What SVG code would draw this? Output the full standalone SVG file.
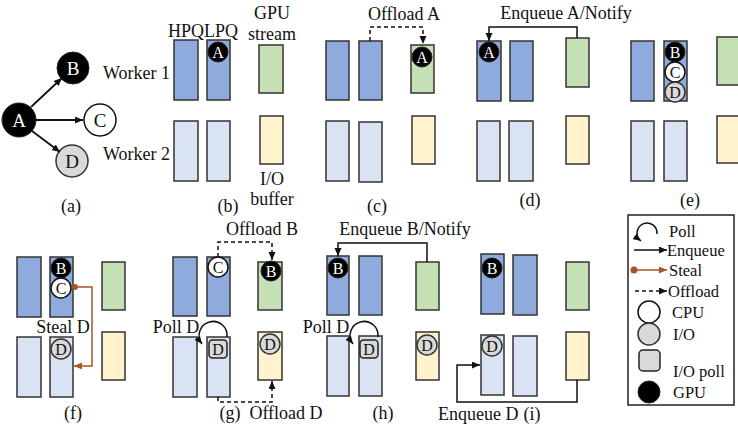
<svg xmlns="http://www.w3.org/2000/svg" width="738" height="429" viewBox="0 0 738 429">
  <style>
    text { font-family: "Liberation Serif", "Times New Roman", serif; font-size: 18px; fill: #111; }
    .mid { text-anchor: middle; }
    .lg { font-size: 16.5px; }
    .tk { font-size: 16px; text-anchor: middle; }
    .tkw { font-size: 16px; text-anchor: middle; fill: #fff; }
    .big { font-size: 19px; text-anchor: middle; }
    .bigw { font-size: 19px; text-anchor: middle; fill: #fff; }
    .q1 { fill: #8faadc; stroke: #333; stroke-width: 1.5; }
    .q2 { fill: #dae3f3; stroke: #333; stroke-width: 1.5; }
    .gs { fill: #c5e0b4; stroke: #333; stroke-width: 1.5; }
    .iob { fill: #fff2cc; stroke: #333; stroke-width: 1.5; }
    .gpu { fill: #000; stroke: #222; stroke-width: 1; }
    .cpu { fill: #fff; stroke: #111; stroke-width: 1.5; }
    .io { fill: #d9d9d9; stroke: #333; stroke-width: 1.5; }
    .poll { fill: #d9d9d9; stroke: #222; stroke-width: 1.5; }
    .enq { fill: none; stroke: #111; stroke-width: 1.5; marker-end: url(#ah); }
    .off { fill: none; stroke: #111; stroke-width: 1.5; stroke-dasharray: 4 3; marker-end: url(#ah); }
    .stl { fill: none; stroke: #a65628; stroke-width: 1.5; marker-end: url(#ahb); }
    .edge { fill: none; stroke: #111; stroke-width: 1.8; marker-end: url(#ah); }
  </style>
  <defs>
    <marker id="ah" markerUnits="userSpaceOnUse" markerWidth="9" markerHeight="8" refX="8" refY="3.5" orient="auto">
      <path d="M0,0 L8,3.5 L0,7 z" fill="#111"/>
    </marker>
    <marker id="ahb" markerUnits="userSpaceOnUse" markerWidth="9" markerHeight="8" refX="8" refY="3.5" orient="auto">
      <path d="M0,0 L8,3.5 L0,7 z" fill="#a65628"/>
    </marker>
  </defs>

  <rect width="738" height="429" fill="#fff"/>

  <!-- (a) task graph -->
  <g id="task-a"><circle class="gpu" cx="19" cy="120" r="17"/><text class="bigw" x="19" y="126.5">A</text></g>
  <g id="task-b"><circle class="gpu" cx="73" cy="68" r="16"/><text class="bigw" x="73" y="74.5">B</text></g>
  <g id="task-c"><circle class="cpu" cx="100" cy="120" r="16"/><text class="big" x="100" y="126.5">C</text></g>
  <g id="task-d"><circle class="io" cx="72" cy="161" r="16"/><text class="big" x="72" y="167.5">D</text></g>
  <text x="103" y="79">Worker 1</text>
  <text x="103" y="160">Worker 2</text>
  <text class="mid" x="71" y="212">(a)</text>

  <!-- (b) initial queues -->
  <g id="panel-b">
    <rect class="q1" x="174" y="40" width="24" height="60"/>
    <rect class="q1" x="207" y="40" width="23" height="60"/>
    <rect class="gs" x="259" y="45" width="24" height="48"/>
    <rect class="q2" x="174" y="121" width="24" height="60"/>
    <rect class="q2" x="207" y="121" width="23" height="60"/>
    <rect class="iob" x="260" y="116" width="23" height="48"/>
    <g id="b-task-a"><circle class="gpu" cx="218" cy="52" r="10"/><text class="tkw" x="218" y="57.5">A</text></g>
    <text x="168" y="37">HPQLPQ</text>
    <text class="mid" x="272" y="19">GPU</text>
    <text class="mid" x="272" y="40">stream</text>
    <text class="mid" x="272" y="185">I/O</text>
    <text class="mid" x="272" y="205">buffer</text>
    <text class="mid" x="228" y="212">(b)</text>
  </g>

  <!-- (c) offload A -->
  <g id="panel-c">
    <rect class="q1" x="326" y="41" width="23" height="59"/>
    <rect class="q1" x="359" y="41" width="23" height="59"/>
    <rect class="gs" x="411" y="45" width="23" height="48"/>
    <rect class="q2" x="326" y="121" width="23" height="60"/>
    <rect class="q2" x="359" y="122" width="23" height="60"/>
    <rect class="iob" x="412" y="116" width="23" height="48"/>
    <g id="c-task-a"><circle class="gpu" cx="422" cy="57" r="10"/><text class="tkw" x="422" y="62.5">A</text></g>
    <text class="mid" x="404" y="20">Offload A</text>
    <text class="mid" x="377" y="212">(c)</text>
  </g>

  <!-- (d) enqueue A -->
  <g id="panel-d">
    <rect class="q1" x="477" y="41" width="24" height="60"/>
    <rect class="q1" x="510" y="41" width="23" height="60"/>
    <rect class="gs" x="566" y="38" width="23" height="49"/>
    <rect class="q2" x="477" y="121" width="23" height="60"/>
    <rect class="q2" x="509" y="121" width="24" height="60"/>
    <rect class="iob" x="566" y="116" width="23" height="48"/>
    <g id="d-task-a"><circle class="gpu" cx="489" cy="52" r="10"/><text class="tkw" x="489" y="57.5">A</text></g>
    <text class="mid" x="566" y="19">Enqueue A/Notify</text>
    <text class="mid" x="530" y="206">(d)</text>
  </g>

  <!-- (e) successors spawned -->
  <g id="panel-e">
    <rect class="q1" x="631" y="41" width="23" height="60"/>
    <rect class="q1" x="664" y="41" width="23" height="60"/>
    <rect class="gs" x="717" y="37" width="30" height="48"/>
    <rect class="q2" x="631" y="121" width="23" height="60"/>
    <rect class="q2" x="664" y="121" width="23" height="60"/>
    <rect class="iob" x="717" y="116" width="30" height="47"/>
    <g id="e-task-b"><circle class="gpu" cx="675" cy="52" r="10"/><text class="tkw" x="675" y="57.5">B</text></g>
    <g id="e-task-c"><circle class="cpu" cx="675" cy="72" r="10"/><text class="tk" x="675" y="77.5">C</text></g>
    <g id="e-task-d"><circle class="io" cx="675" cy="92" r="10"/><text class="tk" x="675" y="97.5">D</text></g>
    <text class="mid" x="690" y="206">(e)</text>
  </g>

  <!-- (f) steal D -->
  <g id="panel-f">
    <rect class="q1" x="17" y="257" width="24" height="60"/>
    <rect class="q1" x="50" y="257" width="23" height="60"/>
    <rect class="gs" x="102" y="262" width="23" height="48"/>
    <rect class="q2" x="17" y="337" width="24" height="60"/>
    <rect class="q2" x="50" y="337" width="23" height="60"/>
    <rect class="iob" x="102" y="332" width="23" height="48"/>
    <g id="f-task-b"><circle class="gpu" cx="61" cy="268" r="10"/><text class="tkw" x="61" y="273.5">B</text></g>
    <g id="f-task-c"><circle class="cpu" cx="61" cy="288" r="10"/><text class="tk" x="61" y="293.5">C</text></g>
    <g id="f-task-d"><circle class="io" cx="61" cy="349" r="10"/><text class="tk" x="61" y="354.5">D</text></g>
    <text class="mid" x="63" y="333">Steal D</text>
    <text class="mid" x="73" y="419">(f)</text>
  </g>

  <!-- (g) offload B, poll D -->
  <g id="panel-g">
    <rect class="q1" x="173" y="257" width="24" height="59"/>
    <rect class="q1" x="207" y="257" width="23" height="59"/>
    <rect class="gs" x="258" y="262" width="24" height="48"/>
    <rect class="q2" x="173" y="337" width="24" height="60"/>
    <rect class="q2" x="207" y="337" width="23" height="60"/>
    <rect class="iob" x="258" y="332" width="24" height="48"/>
    <g id="g-task-c"><circle class="cpu" cx="218" cy="267" r="10"/><text class="tk" x="218" y="272.5">C</text></g>
    <g id="g-task-b"><circle class="gpu" cx="271" cy="271" r="10"/><text class="tkw" x="271" y="276.5">B</text></g>
    <g id="g-poll-d"><rect class="poll" x="209" y="340" width="18" height="18" rx="3.5"/><text class="tk" x="218" y="355">D</text></g>
    <g id="g-task-d"><circle class="io" cx="270" cy="344" r="10"/><text class="tk" x="270" y="349.5">D</text></g>
    <text class="mid" x="262" y="235">Offload B</text>
    <text class="mid" x="176" y="333">Poll D</text>
    <text class="mid" x="230" y="419">(g)</text>
    <text class="mid" x="286" y="419">Offload D</text>
  </g>

  <!-- (h) enqueue B, poll D -->
  <g id="panel-h">
    <rect class="q1" x="327" y="256" width="22" height="59"/>
    <rect class="q1" x="359" y="256" width="23" height="59"/>
    <rect class="gs" x="416" y="262" width="23" height="48"/>
    <rect class="q2" x="327" y="336" width="22" height="60"/>
    <rect class="q2" x="359" y="336" width="23" height="60"/>
    <rect class="iob" x="416" y="332" width="23" height="48"/>
    <g id="h-task-b"><circle class="gpu" cx="338" cy="268" r="10"/><text class="tkw" x="338" y="273.5">B</text></g>
    <g id="h-poll-d"><rect class="poll" x="360" y="340" width="18" height="18" rx="3.5"/><text class="tk" x="369" y="355">D</text></g>
    <g id="h-task-d"><circle class="io" cx="427" cy="345" r="10"/><text class="tk" x="427" y="350.5">D</text></g>
    <text class="mid" x="405" y="235">Enqueue B/Notify</text>
    <text class="mid" x="326" y="333">Poll D</text>
    <text class="mid" x="383" y="419">(h)</text>
  </g>

  <!-- (i) enqueue D -->
  <g id="panel-i">
    <rect class="q1" x="481" y="254" width="23" height="60"/>
    <rect class="q1" x="513" y="255" width="24" height="60"/>
    <rect class="gs" x="566" y="262" width="23" height="48"/>
    <rect class="q2" x="481" y="335" width="23" height="60"/>
    <rect class="q2" x="513" y="336" width="24" height="60"/>
    <rect class="iob" x="566" y="332" width="23" height="48"/>
    <g id="i-task-b"><circle class="gpu" cx="492" cy="268" r="10"/><text class="tkw" x="492" y="273.5">B</text></g>
    <g id="i-task-d"><circle class="io" cx="492" cy="346" r="10"/><text class="tk" x="492" y="351.5">D</text></g>
    <text x="438" y="420">Enqueue D</text>
    <text class="mid" x="532" y="420">(i)</text>
  </g>

  <!-- connectors -->
  <g id="connectors">
    <path class="edge" d="M31 107 L62 78"/>
    <path class="edge" d="M36 120 L83 120"/>
    <path class="edge" d="M32 131 L60 152"/>
    <path class="off" d="M370 41 V27 H423 V44"/>
    <path class="enq" d="M577 38 V27 H489 V41"/>
    <circle cx="75" cy="287" r="3" fill="#a65628"/>
    <path class="stl" d="M75 287 H92 V366 H74"/>
    <path class="off" d="M218 257 V242 H272 V260"/>
    <path class="enq" d="M227 337 A14 14 0 1 0 202 344"/>
    <path class="off" d="M218 397 V402 H272 V381"/>
    <path class="enq" d="M427 262 V243 H338 V256"/>
    <path class="enq" d="M378 337 A14 14 0 1 0 353 344"/>
    <path class="enq" d="M577 380 V402 H457 V365 H480"/>
  </g>

  <!-- legend -->
  <g id="legend">
    <rect x="628" y="215" width="106" height="190" fill="#fff" stroke="#222" stroke-width="1.5"/>
    <path class="enq" d="M657 234 A10 10 0 1 0 641 241"/>
    <text class="lg" x="669" y="237">Poll</text>
    <path class="enq" d="M634 250 H667"/>
    <text class="lg" x="667" y="256">Enqueue</text>
    <circle cx="634" cy="270" r="3.5" fill="#a65628"/>
    <path class="stl" d="M634 270 H667"/>
    <text class="lg" x="669" y="276">Steal</text>
    <path class="off" d="M635 291 H667"/>
    <text class="lg" x="668" y="297">Offload</text>
    <circle class="cpu" cx="649" cy="312" r="11"/>
    <text class="lg" x="672" y="318">CPU</text>
    <circle class="io" cx="649" cy="334" r="11"/>
    <text class="lg" x="673" y="340">I/O</text>
    <rect class="poll" x="639" y="350" width="21" height="21" rx="4"/>
    <text class="lg" x="673" y="377">I/O poll</text>
    <circle class="gpu" cx="649" cy="392" r="11"/>
    <text class="lg" x="673" y="398">GPU</text>
  </g>
</svg>
